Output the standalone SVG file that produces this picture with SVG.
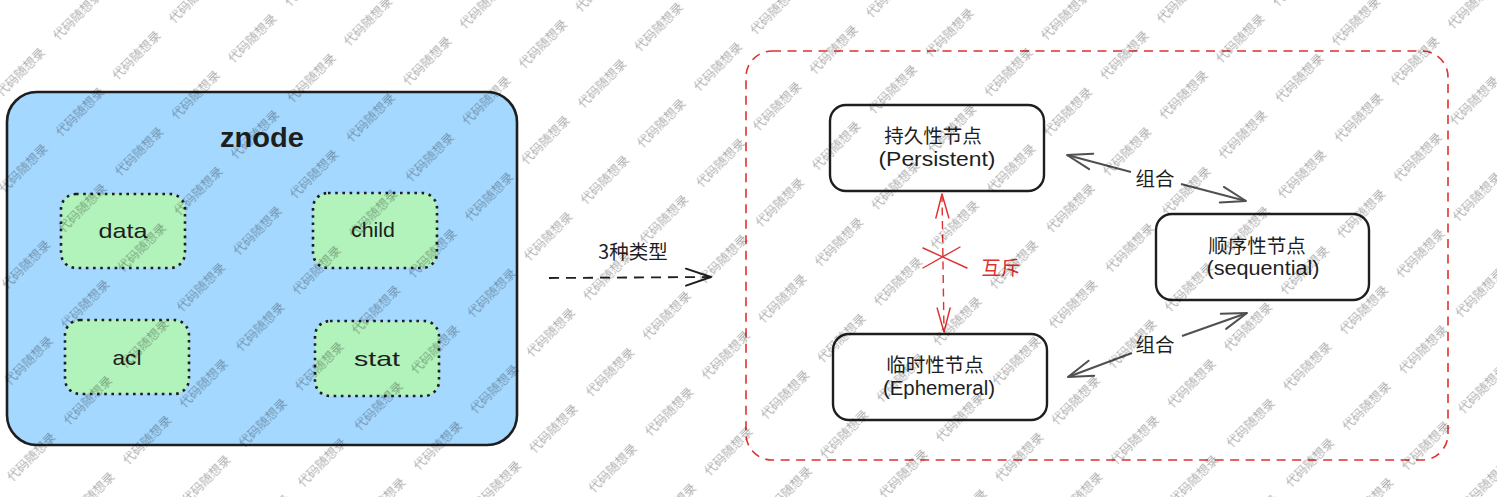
<svg xmlns="http://www.w3.org/2000/svg" width="1497" height="497" viewBox="0 0 1497 497">
  <style>
    .box { fill: #ffffff; stroke: #1e1e1e; stroke-width: 2.4; }
    .outer { fill: #a5d8ff; stroke: #1e1e1e; stroke-width: 2.6; }
    .inner { fill: #b2f2bb; stroke: #1e1e1e; stroke-width: 2.6; stroke-dasharray: 2.6 4.6; }
    .region { fill: none; stroke: #e03131; stroke-width: 1.6; stroke-dasharray: 9 6.5; }
    .lat { font-family: "Liberation Sans", "Noto Sans", sans-serif; fill: #1e1e1e; text-anchor: middle; dominant-baseline: central; }
    .cjk { font-family: "Noto Sans CJK SC", "Noto Sans", sans-serif; fill: #1e1e1e; text-anchor: middle; dominant-baseline: central; font-size: 19.5px; }
    .red { fill: #e03131; }
    .edge-dark { fill: none; stroke: #1e1e1e; stroke-width: 1.8; stroke-dasharray: 10 7; }
    .edge-gray { fill: none; stroke: #505050; stroke-width: 2; }
    .edge-red { fill: none; stroke: #e03131; stroke-width: 1.4; stroke-dasharray: 8 5.5; }
    .wm { font-family: "Noto Sans CJK SC", sans-serif; font-size: 12.5px; fill: #000000; fill-opacity: 0.33; text-anchor: middle; dominant-baseline: central; }
  </style>
  <defs>
    <marker id="ah-dark" viewBox="-28 -12 32 24" markerWidth="32" markerHeight="24" refX="0" refY="0" markerUnits="userSpaceOnUse" orient="auto-start-reverse">
      <path d="M-25,-8.5 L0,0 L-25,8.5" fill="none" stroke="#1e1e1e" stroke-width="2" stroke-linecap="round" stroke-linejoin="round"/>
    </marker>
    <marker id="ah-gray" viewBox="-28 -12 32 24" markerWidth="32" markerHeight="24" refX="0" refY="0" markerUnits="userSpaceOnUse" orient="auto-start-reverse">
      <path d="M-25,-8 L0,0 L-25,8" fill="none" stroke="#505050" stroke-width="2" stroke-linecap="round" stroke-linejoin="round"/>
    </marker>
    <marker id="ah-red" viewBox="-28 -12 32 24" markerWidth="32" markerHeight="24" refX="0" refY="0" markerUnits="userSpaceOnUse" orient="auto-start-reverse">
      <path d="M-24,-6.5 L0,0 L-24,6.5" fill="none" stroke="#e03131" stroke-width="1.5" stroke-linecap="round" stroke-linejoin="round"/>
    </marker>
    <pattern id="wm-pattern" patternUnits="userSpaceOnUse" x="-9.3" y="29.4" width="80" height="69.86" patternTransform="rotate(-45) skewX(11.22)">
      <text class="wm" transform="translate(40,35) skewX(-11.22)">代码随想录</text>
    </pattern>
  </defs>

  <rect x="0" y="0" width="1497" height="497" fill="#ffffff"/>

  <g id="znode">
    <rect class="outer" x="7" y="92" width="510" height="353" rx="30" ry="30"/>
    <text class="lat" x="262" y="137" font-size="28" font-weight="bold" textLength="84" lengthAdjust="spacingAndGlyphs">znode</text>
    <g id="data">
      <rect class="inner" x="61" y="194" width="124" height="74" rx="15" ry="15"/>
      <text class="lat" x="123" y="230" font-size="21" textLength="49" lengthAdjust="spacingAndGlyphs">data</text>
    </g>
    <g id="child">
      <rect class="inner" x="313" y="193" width="124" height="75" rx="15" ry="15"/>
      <text class="lat" x="373" y="229" font-size="21" textLength="44" lengthAdjust="spacingAndGlyphs">child</text>
    </g>
    <g id="acl">
      <rect class="inner" x="65" y="320" width="124" height="74" rx="15" ry="15"/>
      <text class="lat" x="127" y="357" font-size="21" textLength="29" lengthAdjust="spacingAndGlyphs">acl</text>
    </g>
    <g id="stat">
      <rect class="inner" x="315" y="321" width="124" height="75" rx="15" ry="15"/>
      <text class="lat" x="377" y="358" font-size="21" textLength="46" lengthAdjust="spacingAndGlyphs">stat</text>
    </g>
  </g>

  <g id="node-types-region">
    <rect class="region" x="746" y="51" width="702" height="409" rx="26" ry="26"/>
  </g>

  <g id="persistent">
    <rect class="box" x="830" y="105" width="214" height="86" rx="16" ry="16"/>
    <text class="cjk" x="933" y="134">持久性节点</text>
    <text class="lat" x="937" y="159" font-size="20" textLength="117" lengthAdjust="spacingAndGlyphs">(Persistent)</text>
  </g>

  <g id="ephemeral">
    <rect class="box" x="833" y="334" width="214" height="86" rx="16" ry="16"/>
    <text class="cjk" x="935" y="363">临时性节点</text>
    <text class="lat" x="939" y="388" font-size="20" textLength="112" lengthAdjust="spacingAndGlyphs">(Ephemeral)</text>
  </g>

  <g id="sequential">
    <rect class="box" x="1156" y="214" width="213" height="86" rx="16" ry="16"/>
    <text class="cjk" x="1257" y="244">顺序性节点</text>
    <text class="lat" x="1263" y="268" font-size="20" textLength="113" lengthAdjust="spacingAndGlyphs">(sequential)</text>
  </g>

  <g id="connectors">
    <g id="edge-types">
      <path class="edge-dark" d="M549,278 L711,277" marker-end="url(#ah-dark)"/>
      <text class="cjk" x="633" y="250">3种类型</text>
    </g>
    <g id="edge-mutex">
      <path class="edge-red" d="M942,194 L944,332" marker-start="url(#ah-red)" marker-end="url(#ah-red)"/>
      <path d="M923,248 L967,268 M923,268 L960,247" fill="none" stroke="#e03131" stroke-width="1.4" stroke-linecap="round"/>
      <text class="cjk red" x="1001" y="266">互斥</text>
    </g>
    <g id="edge-combine-persistent">
      <path class="edge-gray" d="M1067,155 L1131,172" marker-start="url(#ah-gray)"/>
      <path class="edge-gray" d="M1181,184 L1246,201" marker-end="url(#ah-gray)"/>
      <text class="cjk" x="1155" y="177">组合</text>
    </g>
    <g id="edge-combine-ephemeral">
      <path class="edge-gray" d="M1068,377 L1132,353" marker-start="url(#ah-gray)"/>
      <path class="edge-gray" d="M1182,336 L1247,313" marker-end="url(#ah-gray)"/>
      <text class="cjk" x="1155" y="343">组合</text>
    </g>
  </g>

  <g id="watermark" pointer-events="none">
    <rect x="0" y="0" width="1497" height="497" fill="url(#wm-pattern)"/>
  </g>
</svg>
